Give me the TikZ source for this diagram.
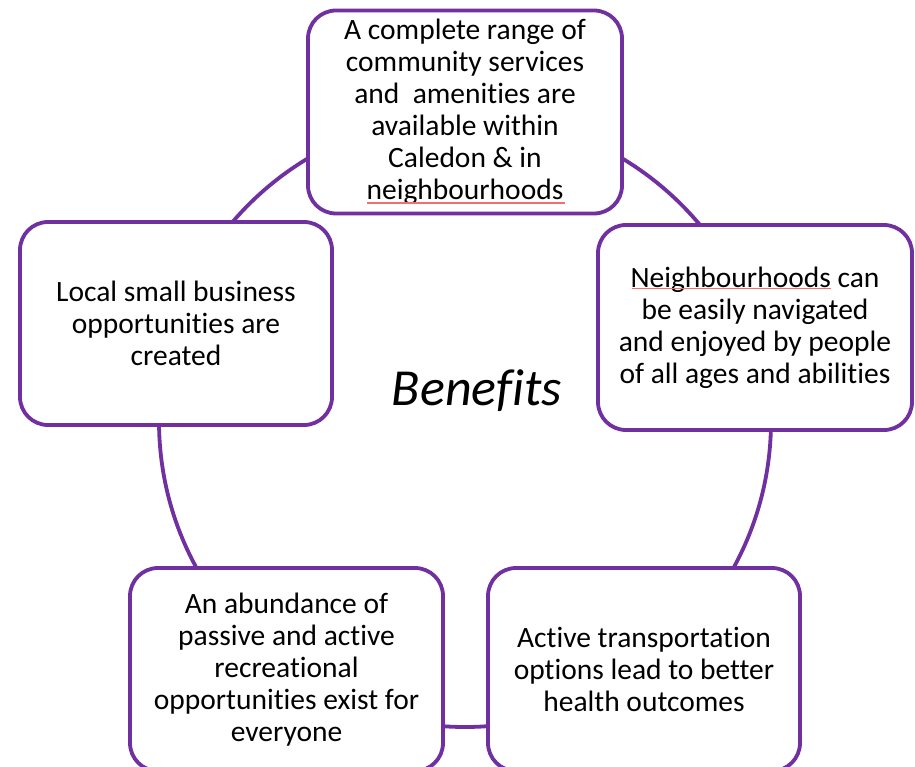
\documentclass[tikz,border=0pt]{standalone}
\usepackage{fontspec}
\setmainfont{Carlito}[RawFeature={-liga;-clig;-calt;-dlig}]
\newcommand\tsep{t\kern0pt i}
\definecolor{ringpurple}{HTML}{7030A0}
\definecolor{spellred}{HTML}{F07070}
\begin{document}
\begin{tikzpicture}[x=1pt,y=-1pt,
  benefitbox/.style={draw=ringpurple, line width=3.8pt, fill=white,
    rounded corners=28pt, rectangle, inner sep=0pt,
    minimum width=#1, align=center,
    font=\fontsize{29.5}{32}\selectfont},
  ringline/.style={draw=ringpurple, line width=3.8pt},
  spellmark/.style={draw=spellred, line width=1.2pt}]
\useasboundingbox (0,0) rectangle (915,767);
\fill[white] (0,0) rectangle (915,767);
% ring
\coordinate (ringc) at (465,421);
\draw[ringline] (ringc) circle[radius=306];
% boxes
\node[benefitbox=314pt, minimum height=203pt] (top) at (465,112)
  {A complete range of\\community services\\and\ \ ameni\tsep es are\\available within\\Caledon \& in\\neighbourhoods};
\node[benefitbox=312pt, minimum height=203pt] (left) at (176,323.5)
  {Local small business\\opportuni\tsep es are\\created};
\node[benefitbox=314pt, minimum height=205pt] (right) at (755,327.5)
  {Neighbourhoods can\\be easily navigated\\and enjoyed by people\\of all ages and abili\tsep es};
\node[benefitbox=313pt, minimum height=203pt] (bl) at (286.5,669.5)
  {An abundance of\\passive and ac\tsep ve\\recrea\tsep onal\\opportuni\tsep es exist for\\everyone};
\node[benefitbox=312pt, minimum height=203pt] (br) at (644,669.5)
  {Ac\tsep ve transporta\tsep on\\op\tsep ons lead to better\\health outcomes};
% spell-check underlines
\coordinate (s1a) at (367,203); \coordinate (s1b) at (565,203);
\draw[spellmark] (s1a) -- (s1b);
\coordinate (s2a) at (632,288.5); \coordinate (s2b) at (831,288.5);
\draw[spellmark] (s2a) -- (s2b);
% centre label
\node[font=\fontsize{52}{58}\selectfont\itshape, inner sep=0pt] (benefits) at (477,391) {Bene\kern0pt fits};
\end{tikzpicture}
\end{document}
